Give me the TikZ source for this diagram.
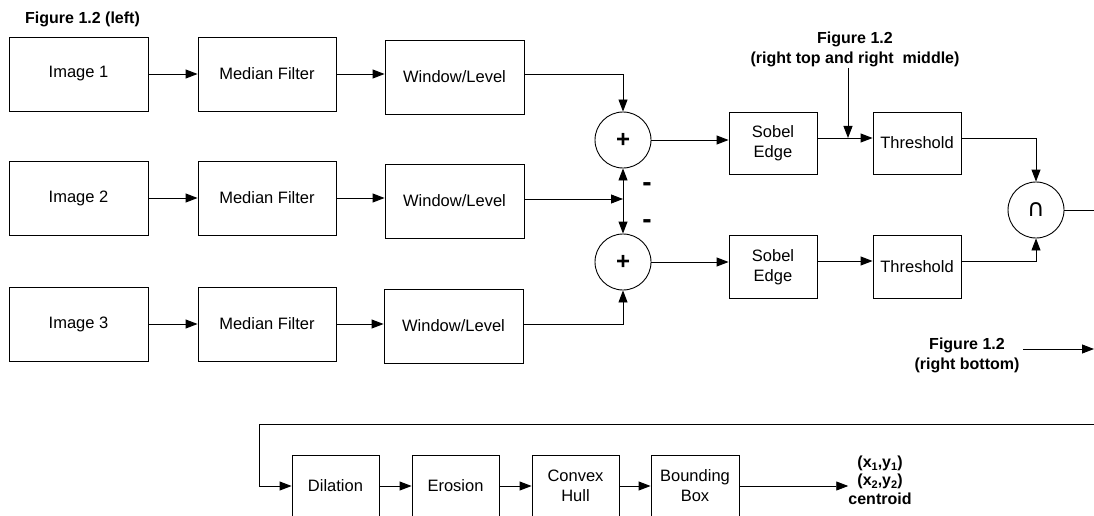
\documentclass[tikz,border=0pt]{standalone}
\usepackage{fontspec}
\setmainfont{Liberation Sans}
\newfontfamily\symfont{DejaVu Sans}
\usetikzlibrary{arrows.meta}
\tikzset{
  blk/.style={draw, line width=0.9pt, align=center, inner sep=0pt,
    font=\fontsize{16.5}{20}\selectfont},
  sumc/.style={draw, circle, line width=0.9pt, minimum size=56pt, inner sep=0pt,
    font=\fontsize{24}{24}\selectfont\bfseries},
  lbl/.style={align=center, inner sep=0pt, font=\fontsize{16}{20}\selectfont\bfseries},
  minus/.style={inner sep=0pt, font=\fontsize{28}{28}\selectfont\bfseries},
  arr/.style={line width=0.9pt, -{Triangle[length=12pt,width=9pt]}},
  ln/.style={line width=0.9pt},
}
\begin{document}
\begin{tikzpicture}[x=1pt,y=-1pt]
\useasboundingbox (0,0) rectangle (1094,516);
\clip (0,0) rectangle (1094,516);
% left column
\node[blk, minimum width=139pt, minimum height=74pt] (img1) at (78.5,74) {Image 1};
\node[blk, minimum width=139pt, minimum height=74pt] (img2) at (78.5,198) {Image 2};
\node[blk, minimum width=139pt, minimum height=74pt] (img3) at (78.5,324) {Image 3};
\node[blk, minimum width=138pt, minimum height=74pt] (med1) at (267,74) {Median Filter};
\node[blk, minimum width=138pt, minimum height=74pt] (med2) at (267,198) {Median Filter};
\node[blk, minimum width=138pt, minimum height=74pt] (med3) at (267,324) {Median Filter};
\node[blk, minimum width=139pt, minimum height=74pt] (wl1) at (454.5,77) {Window/Level};
\node[blk, minimum width=139pt, minimum height=74pt] (wl2) at (454.5,201) {Window/Level};
\node[blk, minimum width=139pt, minimum height=74pt] (wl3) at (453.5,326) {Window/Level};
\node[lbl, anchor=west] (figl) at (25,19) {Figure 1.2 (left)};
% sums
\node[sumc] (p1) at (623,140) {+};
\node[sumc] (p2) at (623,262) {+};
\node[minus] (m1) at (647,187) {-};
\node[minus] (m2) at (647,224) {-};
% right
\node[blk, minimum width=88pt, minimum height=62pt] (sob1) at (773,143) {Sobel\\Edge};
\node[blk, minimum width=88pt, minimum height=62pt] (thr1) at (917,143) {Threshold};
\node[blk, minimum width=88pt, minimum height=63pt] (sob2) at (773,267) {Sobel\\Edge};
\node[blk, minimum width=88pt, minimum height=63pt] (thr2) at (917,267) {Threshold};
\node[sumc, font=\fontsize{24}{24}\selectfont\symfont] (cap) at (1036,210) {∩};
\node[lbl] (figr) at (855,49) {Figure 1.2\\(right top and right\ \ middle)};
\node[lbl] (figb) at (967,355) {Figure 1.2\\(right bottom)};
% bottom chain
\node[blk, minimum width=87pt, minimum height=62pt] (dil) at (335.5,486) {Dilation};
\node[blk, minimum width=87pt, minimum height=62pt] (ero) at (455.5,486) {Erosion};
\node[blk, minimum width=87pt, minimum height=62pt] (cvx) at (575.5,486) {Convex\\Hull};
\node[blk, minimum width=88pt, minimum height=62pt] (bb) at (695,486) {Bounding\\Box};
\node[lbl, font=\fontsize{16}{18.5}\selectfont\bfseries] (out) at (880,480)
  {(x\raisebox{-3pt}{\fontsize{11}{11}\selectfont 1},y\raisebox{-3pt}{\fontsize{11}{11}\selectfont 1})\\(x\raisebox{-3pt}{\fontsize{11}{11}\selectfont 2},y\raisebox{-3pt}{\fontsize{11}{11}\selectfont 2})\\centroid};
% coordinates
\coordinate (j1) at (848,138);
\coordinate (lt) at (848,68);
\coordinate (ce) at (1094,210);
\coordinate (rb1) at (1023,349);
\coordinate (rb2) at (1094,349);
\coordinate (b1) at (1094,424);
\coordinate (b2) at (259,424);
% connectors
\foreach \i in {1,2,3}{
  \draw[arr] (img\i.east) -- (med\i.west);
  \draw[arr] (med\i.east) -- (med\i.east -| wl\i.west);
}
\draw[arr] ([yshift=3pt]wl1.east) -| (p1.north);
\draw[arr] ([yshift=2pt]wl2.east) -- ([yshift=2pt]wl2.east -| p1.south);
\draw[arr] ([yshift=2pt]wl3.east) -| (p2.south);
\draw[arr] ([yshift=2pt]wl2.east -| p1.south) -- (p1.south);
\draw[arr] ([yshift=2pt]wl2.east -| p1.south) -- (p2.north);
\draw[arr] (p1.east) -- (p1.east -| sob1.west);
\draw[arr] ([yshift=5pt]sob1.east) -- ([yshift=5pt]sob1.east -| thr1.west);
\draw[arr] ([yshift=5pt]thr1.east) -| (cap.north);
\draw[arr] (lt) -- (j1);
\draw[arr] (p2.east) -- (p2.east -| sob2.west);
\draw[arr] ([yshift=6pt]sob2.east) -- ([yshift=6pt]sob2.east -| thr2.west);
\draw[arr] ([yshift=6pt]thr2.east) -| (cap.south);
\draw[ln] (cap.east) -- (ce);
\draw[arr] (rb1) -- (rb2);
\draw[arr] (b1) -- (b2) |- (dil.west);
\draw[arr] (dil.east) -- (ero.west);
\draw[arr] (ero.east) -- (cvx.west);
\draw[arr] (cvx.east) -- (bb.west);
\draw[arr] (bb.east) -- (bb.east -| out.west);
\end{tikzpicture}
\end{document}
